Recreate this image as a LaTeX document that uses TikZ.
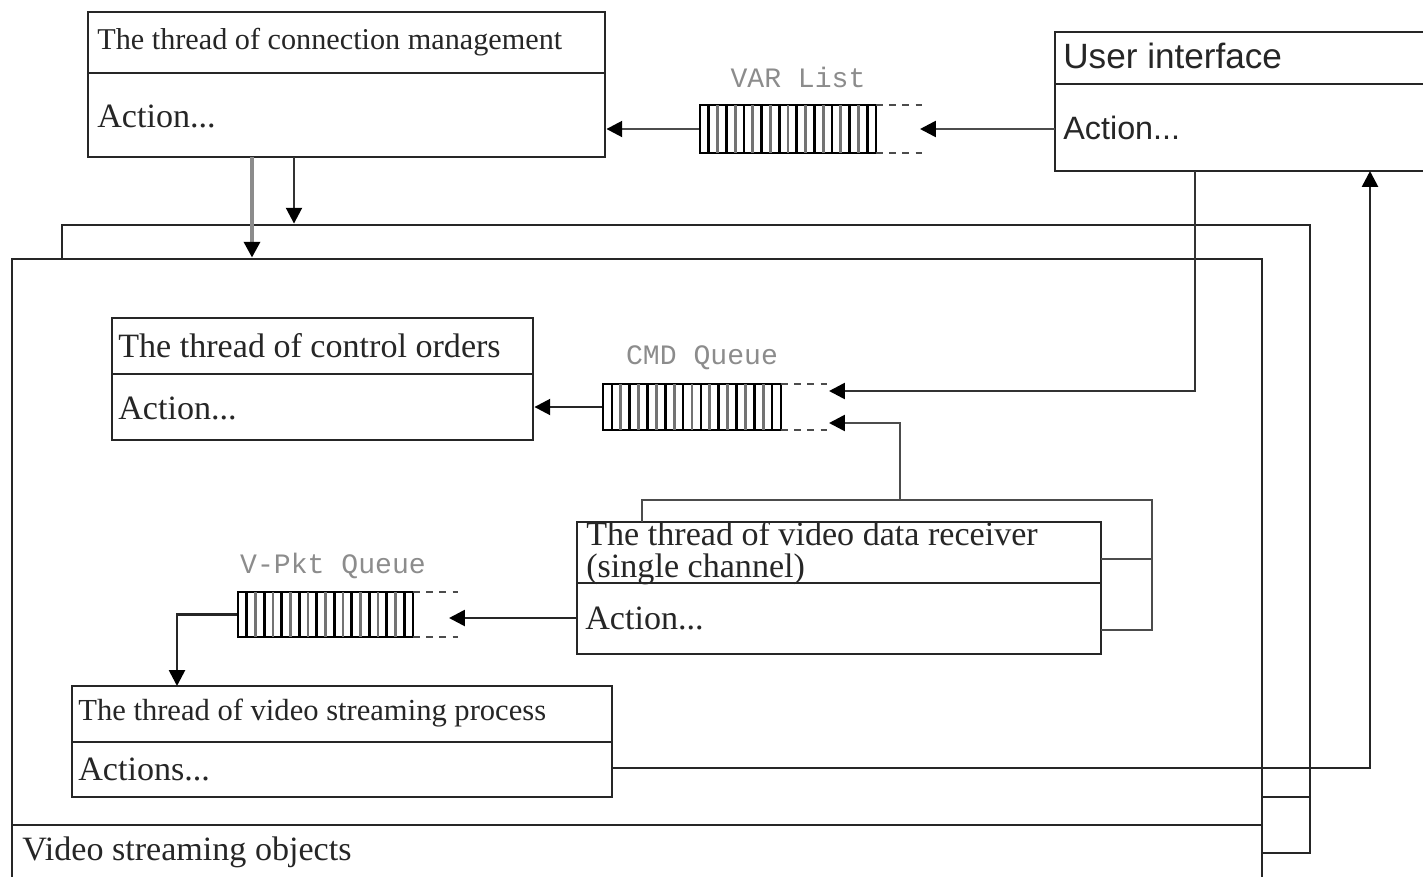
\documentclass[tikz,border=0pt]{standalone}
\usepackage{fontspec}
\setmainfont{Liberation Serif}
\newfontfamily\uifont{Liberation Sans}
\newfontfamily\qfont{Liberation Mono}
\usetikzlibrary{fit,arrows.meta}

% vertical stripes inside a queue body: x0, x1, ytop, ybottom
\newcommand\qstripes[4]{%
  \foreach \k in {1,3,...,19}{%
    \draw[line width=1.5pt,black] ({#1+\k*(#2-#1)/20},#3) -- ({#1+\k*(#2-#1)/20},#4);}
  \foreach \k in {2,4,...,18}{%
    \draw[line width=1.5pt,black!55] ({#1+\k*(#2-#1)/20},#3) -- ({#1+\k*(#2-#1)/20},#4);}
}

\begin{document}
\begin{tikzpicture}[x=0.02cm,y=-0.02cm,
  box/.style={draw=black!85, line width=1.6pt, fill=white, inner sep=0pt},
  divline/.style={draw=black!85, line width=1.6pt},
  txt/.style={anchor=west, inner sep=0pt, text=black!85, font=\fontsize{19.4}{22}\selectfont},
  conn/.style={draw=black!70, line width=1.5pt},
  arr/.style={conn, -{Triangle[length=9pt,width=9pt,color=black]}},
  qbox/.style={draw=black, line width=1.6pt, inner sep=0pt},
  qdash/.style={draw=black!70, line width=1.4pt, dash pattern=on 4pt off 3.5pt},
  qlabel/.style={text=black!45, font=\qfont\fontsize{16}{18}\selectfont, inner sep=0pt}]
\useasboundingbox (0,0) rectangle (1423,876);
\clip (0,0) rectangle (1423,876);

% frames of the video streaming objects (back copy, then front copy)
\node[box, fit={(62,225) (1310,853)}] (back) {};
\draw[divline] (62,797) -- (1310,797);
\node[box, fit={(12,259) (1262,910)}] (front) {};
\draw[divline] (12,825) -- (1262,825);
\node[txt] (frontT) at (22,852) {Video streaming objects};

% thread of connection management
\node[box, fit={(88,12) (605,157)}] (conn) {};
\draw[divline] (88,73) -- (605,73);
\node[txt, font=\fontsize{17.2}{20}\selectfont] (connT) at (97,42) {The thread of connection management};
\node[txt] (connA) at (97,116) {Action...};

% user interface
\node[box, fit={(1055,32) (1450,171)}] (ui) {};
\draw[divline] (1055,84) -- (1450,84);
\node[txt, font=\uifont\fontsize{20}{24}\selectfont] (uiT) at (1063,56) {User interface};
\node[txt, font=\uifont\fontsize{18.4}{22}\selectfont] (uiA) at (1063,128) {Action...};

% thread of control orders
\node[box, fit={(112,318) (533,440)}] (ctrl) {};
\draw[divline] (112,374) -- (533,374);
\node[txt] (ctrlT) at (118,346) {The thread of control orders};
\node[txt] (ctrlA) at (118,408) {Action...};

% thread of video data receiver
\node[box, fit={(577,522) (1101,654)}] (rcv) {};
\draw[divline] (577,583) -- (1101,583);
\node[txt, align=left, font=\fontsize{19.4}{18.2}\selectfont] (rcvT) at (586,553) {The thread of video data receiver\\(single channel)};
\node[txt] (rcvA) at (585,618) {Action...};

% thread of video streaming process
\node[box, fit={(72,686) (612,797)}] (stream) {};
\draw[divline] (72,742) -- (612,742);
\node[txt, font=\fontsize{17.4}{20}\selectfont] (streamT) at (78,713) {The thread of video streaming process};
\node[txt] (streamA) at (78,769) {Actions...};

% VAR list
\node[qbox, fit={(700,105) (876,153)}] (varq) {};
\qstripes{700}{876}{105}{153}
\draw[qdash] (876,105) -- (922,105) (876,153) -- (922,153);
\node[qlabel] (varL) at (798,77) {VAR List};
\coordinate (varIn) at (920,129);

% CMD queue
\node[qbox, fit={(603,384) (781,430)}] (cmdq) {};
\qstripes{603}{781}{384}{430}
\draw[qdash] (781,384) -- (827,384) (781,430) -- (827,430);
\node[qlabel] (cmdL) at (702,358) {CMD Queue};
\coordinate (cmdIn1) at (829,391);
\coordinate (cmdIn2) at (829,423);

% V-Pkt queue
\node[qbox, fit={(238,592) (413,637)}] (vpq) {};
\qstripes{238}{413}{592}{637}
\draw[qdash] (413,592) -- (458,592) (413,637) -- (458,637);
\node[qlabel] (vpL) at (333,566) {V-Pkt Queue};
\coordinate (vpIn) at (449,618);

% connector end points
\coordinate (uiOut) at (1055,129);
\coordinate (uiDown) at (1195,171);
\coordinate (uiUp) at (1370,171);
\coordinate (connO1) at (252,157);
\coordinate (connO2) at (294,157);
\coordinate (rcvUp) at (642,522);
\coordinate (rcvLoopL) at (642,500);
\coordinate (rcvLoopR) at (1152,500);
\coordinate (rcvMid) at (900,500);
\coordinate (rcvR1) at (1101,559);
\coordinate (rcvR2) at (1101,630);
\coordinate (rcvOut) at (577,618);
\coordinate (streamIn) at (177,686);
\coordinate (streamOut) at (612,768);

% connectors
\draw[arr] (uiOut) -- (varIn);
\draw[arr] (varq.west) -- (conn.east |- varq.west);
\draw[arr, draw=black!45, line width=2.2pt] (connO1) -- (connO1 |- front.north);
\draw[arr, draw=black!80] (connO2) -- (connO2 |- back.north);
\draw[arr, draw=black!80] (uiDown) |- (cmdIn1);
\draw[conn] (rcvUp) -- (rcvLoopL) -- (rcvLoopR) |- (rcvR2);
\draw[conn] (rcvR1) -- (rcvR1 -| rcvLoopR);
\draw[arr] (rcvMid) |- (cmdIn2);
\draw[arr, draw=black!85] (cmdq.west) -- (ctrl.east |- cmdq.west);
\draw[arr, draw=black!85] (rcvOut) -- (vpIn);
\draw[arr, draw=black!85] (vpq.west) -| (streamIn);
\draw[arr, draw=black!85] (streamOut) -| (uiUp);
\end{tikzpicture}
\end{document}
